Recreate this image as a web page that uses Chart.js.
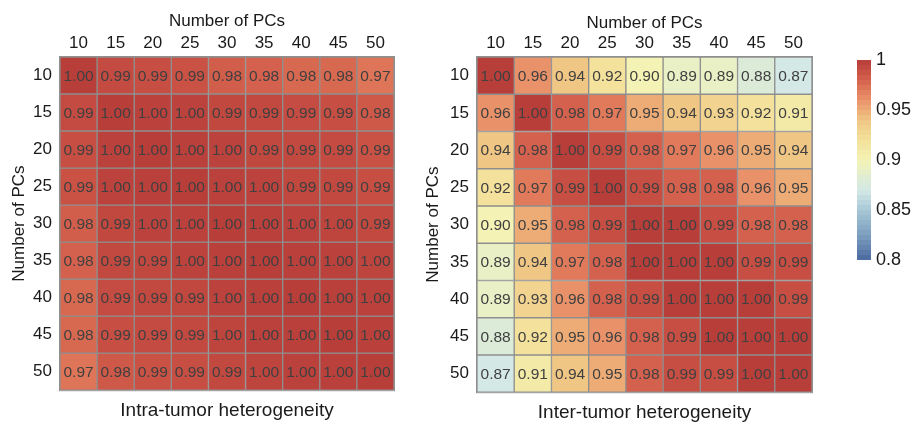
<!DOCTYPE html>
<html>
<head>
<meta charset="utf-8">
<script src="https://cdn.jsdelivr.net/npm/chart.js@4.4.1/dist/chart.umd.min.js"></script>
<style>
  body { margin: 0; background: #fff; overflow: hidden; }
  canvas { position: absolute; }
  #intra { left: 0; top: 0; }
  #inter { left: 418px; top: 2px; }
  #scale { left: 828px; top: 0; }
</style>
</head>
<body>
<canvas id="intra" width="410" height="425"></canvas>
<canvas id="inter" width="410" height="425"></canvas>
<canvas id="scale" width="89" height="425"></canvas>
<script>
// Number of PCs on both axes
const pcLabels = ['10', '15', '20', '25', '30', '35', '40', '45', '50'];

// Intra-tumor heterogeneity (rows = y labels, cols = x labels)
const intraValues = [
  [1.000, 0.992, 0.990, 0.988, 0.982, 0.980, 0.977, 0.977, 0.972],
  [0.992, 1.000, 0.998, 0.997, 0.994, 0.993, 0.991, 0.990, 0.984],
  [0.990, 0.998, 1.000, 0.999, 0.997, 0.994, 0.993, 0.992, 0.988],
  [0.988, 0.997, 0.999, 1.000, 0.998, 0.997, 0.994, 0.993, 0.990],
  [0.982, 0.994, 0.997, 0.998, 1.000, 0.999, 0.997, 0.996, 0.993],
  [0.980, 0.993, 0.994, 0.997, 0.999, 1.000, 0.999, 0.998, 0.996],
  [0.977, 0.991, 0.993, 0.994, 0.997, 0.999, 1.000, 0.999, 0.998],
  [0.977, 0.990, 0.992, 0.993, 0.996, 0.998, 0.999, 1.000, 0.999],
  [0.972, 0.984, 0.988, 0.990, 0.993, 0.996, 0.998, 0.999, 1.000]
];

// Inter-tumor heterogeneity
const interValues = [
  [1.00, 0.96, 0.94, 0.92, 0.90, 0.89, 0.89, 0.88, 0.87],
  [0.96, 1.00, 0.98, 0.97, 0.95, 0.94, 0.93, 0.92, 0.91],
  [0.94, 0.98, 1.00, 0.99, 0.98, 0.97, 0.96, 0.95, 0.94],
  [0.92, 0.97, 0.99, 1.00, 0.99, 0.98, 0.98, 0.96, 0.95],
  [0.90, 0.95, 0.98, 0.99, 1.00, 1.00, 0.99, 0.98, 0.98],
  [0.89, 0.94, 0.97, 0.98, 1.00, 1.00, 1.00, 0.99, 0.99],
  [0.89, 0.93, 0.96, 0.98, 0.99, 1.00, 1.00, 1.00, 0.99],
  [0.88, 0.92, 0.95, 0.96, 0.98, 0.99, 1.00, 1.00, 1.00],
  [0.87, 0.91, 0.94, 0.95, 0.98, 0.99, 0.99, 1.00, 1.00]
];

// Colour bar ticks
const scaleTicks = [0.8, 0.85, 0.9, 0.95, 1];

// Colour ramp (RdYlBu-like, muted)
const rampValues = [0.80, 0.825, 0.85, 0.87, 0.88, 0.89, 0.90, 0.92, 0.94, 0.95, 0.96, 0.97, 0.98, 0.99, 1.00];
const rampColors = ['#4a6a9f', '#7c9fc0', '#a8c8d6', '#d4e9e6', '#dcebd8', '#e9f0c6', '#f4f2b4',
  '#f3e19c', '#f0c685', '#edac76', '#e9926a', '#e07a5b', '#d4614d', '#c64e43', '#b83e3a'];

Chart.defaults.font.family = '"Liberation Sans", Arial, sans-serif';
Chart.defaults.color = '#1a1a1a';

function hexToRgb(h) {
  const n = parseInt(h.slice(1), 16);
  return [(n >> 16) & 255, (n >> 8) & 255, n & 255];
}

function valueColor(v) {
  const lo = rampValues[0], hi = rampValues[rampValues.length - 1];
  v = Math.max(lo, Math.min(hi, v));
  let k = 0;
  while (k < rampValues.length - 2 && v > rampValues[k + 1]) k++;
  const t = (v - rampValues[k]) / (rampValues[k + 1] - rampValues[k]);
  const a = hexToRgb(rampColors[k]), b = hexToRgb(rampColors[k + 1]);
  const c = a.map((x, i) => Math.round(x + (b[i] - x) * t));
  return `rgb(${c[0]},${c[1]},${c[2]})`;
}

// value labels inside every cell
const cellTextPlugin = {
  id: 'cellText',
  afterDatasetsDraw(chart) {
    const ctx = chart.ctx;
    ctx.save();
    ctx.font = '15.5px "Liberation Sans", Arial, sans-serif';
    ctx.fillStyle = '#404040';
    ctx.textAlign = 'center';
    ctx.textBaseline = 'middle';
    chart.data.datasets.forEach((ds, i) => {
      chart.getDatasetMeta(i).data.forEach((bar, j) => {
        const c = bar.getCenterPoint();
        ctx.fillText(ds.cellValues[j].toFixed(2), c.x, c.y + 1);
      });
    });
    ctx.restore();
  }
};

// outer grey frame
const framePlugin = {
  id: 'frame',
  afterDatasetsDraw(chart) {
    const { ctx, chartArea: a } = chart;
    ctx.save();
    ctx.strokeStyle = '#8f8f8f';
    ctx.lineWidth = 1;
    ctx.strokeRect(a.left - 0.5, a.top - 0.5, a.right - a.left + 1, a.bottom - a.top + 1);
    ctx.restore();
  }
};

function createHeatmap(canvasId, values, title, yAxisWidth, xAxisHeight, yTitlePad) {
  const ctx = document.getElementById(canvasId).getContext('2d');

  // one stacked dataset per row, each cell is one unit tall
  const datasets = values.map((row, i) => ({
    label: pcLabels[i],
    data: row.map(() => 1),
    cellValues: row,
    backgroundColor: row.map(v => valueColor(v)),
    borderColor: '#8f8f8f',
    borderWidth: 1,
    borderSkipped: false,
    barPercentage: 1,
    categoryPercentage: 1
  }));

  return new Chart(ctx, {
    type: 'bar',
    data: { labels: pcLabels, datasets: datasets },
    options: {
      responsive: false,
      animation: false,
      layout: { padding: { right: 16 } },
      plugins: {
        legend: { display: false },
        tooltip: { enabled: false },
        title: {
          display: true,
          position: 'bottom',
          fullSize: false,
          text: title,
          font: { size: 19, weight: 'normal' },
          color: '#1a1a1a',
          padding: { top: 9, bottom: 3 }
        }
      },
      scales: {
        x: {
          type: 'category',
          position: 'top',
          stacked: true,
          grid: { display: false, drawTicks: false },
          border: { display: false },
          ticks: { font: { size: 17 }, padding: 3 },
          title: {
            display: true,
            text: 'Number of PCs',
            font: { size: 17 },
            padding: { top: 11, bottom: 0 }
          },
          afterFit: s => { s.height = xAxisHeight; }
        },
        y: {
          type: 'linear',
          min: 0,
          max: pcLabels.length,
          reverse: true,
          stacked: true,
          grid: { display: false, drawTicks: false },
          border: { display: false },
          ticks: {
            autoSkip: false,
            font: { size: 17 },
            padding: 8,
            callback: (v, i) => pcLabels[i]
          },
          afterBuildTicks: s => { s.ticks = pcLabels.map((l, i) => ({ value: i + 0.5 })); },
          title: {
            display: true,
            text: 'Number of PCs',
            font: { size: 17 },
            padding: { top: yTitlePad, bottom: 0 }
          },
          afterFit: s => { s.width = yAxisWidth; }
        }
      }
    },
    plugins: [cellTextPlugin, framePlugin]
  });
}

function scaleGradient(chart) {
  if (!chart.chartArea) return null;
  const y = chart.scales.y;
  const lo = scaleTicks[0], hi = scaleTicks[scaleTicks.length - 1];
  const y0 = y.getPixelForValue(lo), y1 = y.getPixelForValue(hi);
  const g = chart.ctx.createLinearGradient(0, y0, 0, y1);
  const steps = 40;
  for (let k = 0; k < steps; k++) {
    const col = valueColor(lo + (hi - lo) * (k + 0.5) / steps);
    g.addColorStop(k / steps, col);
    g.addColorStop((k + 1) / steps, col);
  }
  return g;
}

function createColorBar() {
  const ctx = document.getElementById('scale').getContext('2d');
  return new Chart(ctx, {
    type: 'bar',
    data: {
      labels: [''],
      datasets: [{
        data: [[scaleTicks[0], scaleTicks[scaleTicks.length - 1]]],
        backgroundColor: c => scaleGradient(c.chart),
        borderWidth: 0,
        barPercentage: 1,
        categoryPercentage: 1
      }]
    },
    options: {
      responsive: false,
      animation: false,
      layout: { padding: { left: 29, top: 60, bottom: 165 } },
      plugins: { legend: { display: false }, tooltip: { enabled: false } },
      scales: {
        x: { display: false },
        y: {
          position: 'right',
          min: scaleTicks[0],
          max: scaleTicks[scaleTicks.length - 1],
          grid: { display: false, drawTicks: false },
          border: { display: false },
          ticks: {
            padding: 5,
            font: { size: 18 },
            callback: v => String(+v.toFixed(2))
          },
          afterBuildTicks: s => { s.ticks = scaleTicks.map(v => ({ value: v })); },
          afterFit: s => { s.width = 46; }
        }
      }
    }
  });
}

createHeatmap('intra', intraValues, 'Intra-tumor heterogeneity', 60, 57, 9);
createHeatmap('inter', interValues, 'Inter-tumor heterogeneity', 59, 55, 5);
createColorBar();
</script>
</body>
</html>
